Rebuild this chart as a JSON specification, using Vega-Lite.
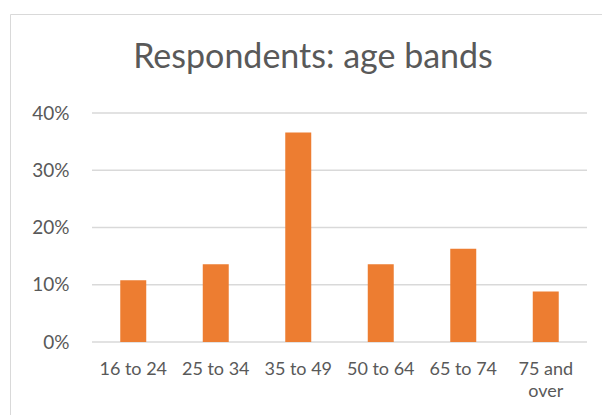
{
  "$schema": "https://vega.github.io/schema/vega-lite/v6.json",
  "width": 594,
  "height": 403,
  "autosize": {"type": "none"},
  "padding": {"left": 10, "top": 14, "right": 0, "bottom": 0},
  "background": "white",
  "config": {
    "view": {"stroke": "#d9d9d9", "strokeWidth": 1},
    "font": "Lato"
  },
  "title": {
    "text": "Respondents: age bands",
    "font": "Lato",
    "fontSize": 34,
    "fontWeight": "normal",
    "color": "#595959",
    "anchor": "middle",
    "frame": "group",
    "baseline": "alphabetic",
    "offset": -88,
    "dx": 6
  },
  "datasets": {
    "bars": [
      {"band": "16 to 24", "share": 0.108},
      {"band": "25 to 34", "share": 0.136},
      {"band": "35 to 49", "share": 0.366},
      {"band": "50 to 64", "share": 0.136},
      {"band": "65 to 74", "share": 0.163},
      {"band": "75 and over", "share": 0.088}
    ],
    "grid": [
      {"g": 0}, {"g": 0.1}, {"g": 0.2}, {"g": 0.3}, {"g": 0.4}
    ]
  },
  "layer": [
    {
      "data": {"name": "grid"},
      "mark": {"type": "rule", "color": "#d9d9d9", "strokeWidth": 1.3},
      "encoding": {
        "x": {"datum": 0, "type": "quantitative", "scale": {"domain": [0, 1], "range": [82, 577]}, "axis": null},
        "x2": {"datum": 1},
        "y": {
          "field": "g",
          "type": "quantitative",
          "scale": {"domain": [0, 0.4], "range": [328, 99]},
          "axis": {
            "title": null,
            "orient": "left",
            "offset": -62,
            "domain": false,
            "ticks": false,
            "tickSize": 0,
            "grid": false,
            "values": [0, 0.1, 0.2, 0.3, 0.4],
            "format": ".0%",
            "labelPadding": 3,
            "labelFont": "Lato",
            "labelFontSize": 19,
            "labelColor": "#595959"
          }
        }
      }
    },
    {
      "data": {"name": "bars"},
      "mark": {"type": "bar", "color": "#ED7D31"},
      "encoding": {
        "x": {
          "field": "band",
          "type": "nominal",
          "sort": null,
          "scale": {"range": [82, 577], "paddingInner": 0.685, "paddingOuter": 0.3425},
          "axis": {
            "title": null,
            "orient": "bottom",
            "offset": -75,
            "domain": false,
            "ticks": false,
            "tickSize": 0,
            "labelPadding": 18,
            "labelAngle": 0,
            "labelFont": "Lato",
            "labelFontSize": 18,
            "labelColor": "#595959",
            "labelLineHeight": 22,
            "labelExpr": "datum.value == '75 and over' ? ['75 and', 'over'] : datum.value"
          }
        },
        "y": {
          "field": "share",
          "type": "quantitative",
          "scale": {"domain": [0, 0.4], "range": [328, 99]}
        }
      }
    }
  ],
  "resolve": {"scale": {"x": "independent"}}
}
